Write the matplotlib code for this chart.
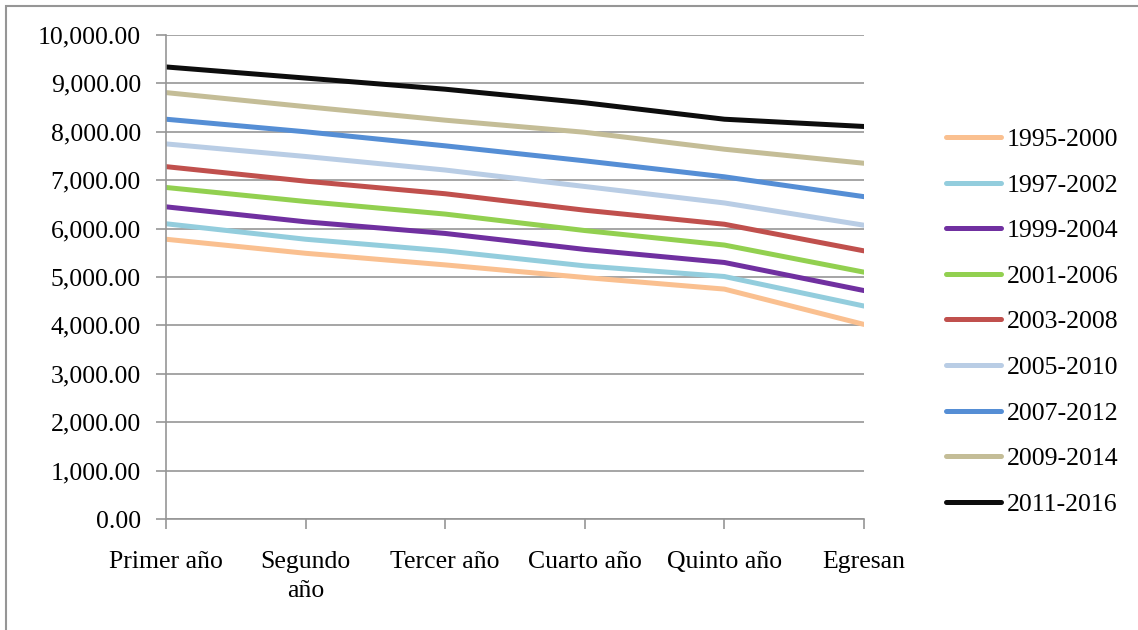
import matplotlib.pyplot as plt
from matplotlib.patches import Rectangle
from matplotlib.ticker import FuncFormatter

plt.rcParams['font.family'] = ['Liberation Serif', 'DejaVu Serif']

# Data
etapas = ["Primer año", "Segundo\naño", "Tercer año", "Cuarto año", "Quinto año", "Egresan"]

g1995 = [5780, 5490, 5250, 4990, 4750, 4020]
g1997 = [6100, 5780, 5540, 5230, 5010, 4400]
g1999 = [6450, 6140, 5900, 5570, 5300, 4720]
g2001 = [6850, 6560, 6300, 5960, 5660, 5100]
g2003 = [7280, 6980, 6720, 6380, 6090, 5540]
g2005 = [7750, 7490, 7210, 6870, 6530, 6070]
g2007 = [8260, 8000, 7710, 7400, 7070, 6660]
g2009 = [8810, 8520, 8240, 7990, 7640, 7350]
g2011 = [9340, 9110, 8880, 8600, 8260, 8110]

generaciones = ["1995-2000", "1997-2002", "1999-2004", "2001-2006", "2003-2008",
                "2005-2010", "2007-2012", "2009-2014", "2011-2016"]
series = [g1995, g1997, g1999, g2001, g2003, g2005, g2007, g2009, g2011]
colores = ["#FAC090", "#93CDDD", "#7030A0", "#92D050", "#C0504D",
           "#B9CDE5", "#558ED5", "#C4BD97", "#0D0D0D"]

fig = plt.figure(figsize=(11.38, 6.3), dpi=100)
ax = fig.add_axes([166 / 1138, 1 - 519 / 630, (864 - 166) / 1138, (519 - 35) / 630])

x = range(len(etapas))
for vals, lab, c in zip(series, generaciones, colores):
    ax.plot(x, vals, color=c, lw=3.6, label=lab, solid_joinstyle="round",
            solid_capstyle="round")

ax.set_xlim(0, len(etapas) - 1)
ax.set_ylim(0, 10000)
ax.set_yticks(range(0, 10001, 1000))
ax.yaxis.set_major_formatter(FuncFormatter(lambda v, p: f"{v:,.2f}"))
ax.set_xticks(list(x))
ax.set_xticklabels(etapas, linespacing=1.4)

ax.grid(axis="y", color="#969696", lw=1.2)
ax.set_axisbelow(True)
for s in ["top", "right"]:
    ax.spines[s].set_visible(False)
for s in ["left", "bottom"]:
    ax.spines[s].set_color("#969696")
    ax.spines[s].set_linewidth(1.2)
ax.tick_params(axis="both", colors="#969696", length=7, width=1.2,
               labelcolor="black", labelsize=18.5)
ax.tick_params(axis="y", pad=11)
ax.tick_params(axis="x", pad=16)

fig.legend(loc="upper left", bbox_to_anchor=(946 / 1138, 1 - 128 / 630),
           frameon=False, fontsize=18.5, handlelength=2.15, handletextpad=0.2,
           labelspacing=0.88, borderpad=0, borderaxespad=0)

# Outer frame
fig.patches.append(Rectangle((6 / 1138, -0.1), 1.2, 1.1 - 6 / 630,
                             transform=fig.transFigure, fill=False,
                             edgecolor="#969696", lw=1.5))

fig.savefig("out.png", dpi=100)
